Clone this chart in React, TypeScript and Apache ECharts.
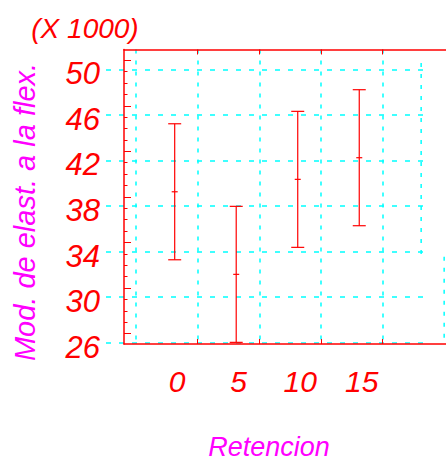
import React, { useEffect, useRef } from 'react';
import * as echarts from 'echarts';

// Data (values in thousands)
const retencion = [0, 5, 10, 15];
const lowerLimit = [33.28, 26.03, 34.37, 36.27];
const meanValue = [39.25, 32.0, 40.34, 42.24];
const upperLimit = [45.22, 37.97, 46.31, 48.21];

// Tick labels / tick marks
const yTickLabels = [26, 30, 34, 38, 42, 46, 50];
const xTickLabels = [0, 5, 10, 15];
const xTickMarks = [1.87, 6.9, 11.9, 16.9];
const yMajorTickMarks = [26.8, 30.8, 34.8, 38.8, 42.8, 46.8, 50.8];
const yMinorTickMarks = [
  27.8, 28.8, 29.8, 31.8, 32.8, 33.8, 35.8, 36.8, 37.8, 39.8, 40.8, 41.8,
  43.8, 44.8, 45.8, 47.8, 48.8, 49.8,
];
// stray partial grid lines of the original plot: [x, yFrom, yTo]
const partialGridX = [20.03, 21.9];
const partialGridFrom = [50.55, 33.55];
const partialGridTo = [33.43, 25.886];

const X_MIN = -4.12;
const X_MAX = 22.05;
const Y_MIN = 25.886;
const Y_MAX = 51.74;

const RED = '#ff0000';
const CYAN = '#00ffff';
const MAGENTA = '#ff00ff';
const FONT = "'Liberation Sans', Arial, sans-serif";

export default function App() {
  const ref = useRef<HTMLDivElement>(null);

  useEffect(() => {
    if (!ref.current) return;
    const chart = echarts.init(ref.current, undefined, { renderer: 'svg' });

    const errData = retencion.map((x, i) => [x, lowerLimit[i], meanValue[i], upperLimit[i]]);

    const hidden = {
      axisLine: { show: false, onZero: false },
      axisTick: { show: false },
      axisLabel: { show: false },
      splitLine: { show: false },
    };

    const option: any = {
      animation: false,
      backgroundColor: '#ffffff',
      grid: [
        { left: 124, top: 49.5, width: 322, height: 294.5 },
        { left: 106, top: 69.3, width: 317, height: 273.4 },
        { left: 136, top: 49.5, width: 246.6, height: 294.5 },
      ],
      xAxis: [
        {
          type: 'value',
          gridIndex: 0,
          position: 'bottom',
          min: X_MIN,
          max: X_MAX,
          axisLine: { show: true, onZero: false, lineStyle: { color: RED, width: 1.5 } },
          axisTick: {
            show: true,
            inside: true,
            length: 5,
            customValues: xTickMarks,
            lineStyle: { color: RED, width: 1 },
          },
          axisLabel: {
            show: true,
            customValues: xTickLabels,
            color: RED,
            fontSize: 30,
            fontStyle: 'italic',
            fontFamily: FONT,
            margin: 22,
            padding: [0, 0, 0, 5],
          },
          splitLine: { show: false },
        },
        {
          type: 'value',
          gridIndex: 0,
          position: 'top',
          min: X_MIN,
          max: X_MAX,
          axisLine: { show: true, onZero: false, lineStyle: { color: RED, width: 1.5 } },
          axisTick: {
            show: true,
            inside: true,
            length: 5,
            customValues: xTickMarks,
            lineStyle: { color: RED, width: 1 },
          },
          axisLabel: { show: false },
          splitLine: { show: false },
        },
        { type: 'value', gridIndex: 1, min: 0, max: 1, ...hidden },
        {
          type: 'value',
          gridIndex: 2,
          min: 0,
          max: 20,
          interval: 5,
          axisLine: { show: false, onZero: false },
          axisTick: { show: false },
          axisLabel: { show: false },
          splitLine: {
            show: true,
            lineStyle: { color: CYAN, width: 1.5, type: [4, 7] },
          },
        },
      ],
      yAxis: [
        {
          type: 'value',
          gridIndex: 0,
          position: 'left',
          min: Y_MIN,
          max: Y_MAX,
          axisLine: { show: true, onZero: false, lineStyle: { color: RED, width: 1.5 } },
          axisTick: {
            show: true,
            inside: true,
            length: 7,
            customValues: yMajorTickMarks,
            lineStyle: { color: RED, width: 1 },
          },
          axisLabel: {
            show: true,
            customValues: yTickLabels,
            color: RED,
            fontSize: 31,
            fontStyle: 'italic',
            fontFamily: FONT,
            margin: 24,
            verticalAlign: 'top',
            lineHeight: 9,
          },
          splitLine: { show: false },
        },
        {
          type: 'value',
          gridIndex: 0,
          position: 'left',
          offset: 0,
          min: Y_MIN,
          max: Y_MAX,
          axisLine: { show: false, onZero: false },
          axisTick: {
            show: true,
            inside: true,
            length: 3.5,
            customValues: yMinorTickMarks,
            lineStyle: { color: RED, width: 1 },
          },
          axisLabel: { show: false },
          splitLine: { show: false },
        },
        {
          type: 'value',
          gridIndex: 1,
          min: 26,
          max: 50,
          interval: 4,
          axisLine: { show: false, onZero: false },
          axisTick: { show: false },
          axisLabel: { show: false },
          splitLine: {
            show: true,
            lineStyle: { color: CYAN, width: 1.5, type: [5, 8] },
          },
        },
        { type: 'value', gridIndex: 2, min: 0, max: 1, ...hidden },
      ],
      series: [
        ...partialGridX.map((x, i) => ({
          type: 'line',
          xAxisIndex: 0,
          yAxisIndex: 0,
          data: [
            [x, partialGridFrom[i]],
            [x, partialGridTo[i]],
          ],
          symbol: 'none',
          silent: true,
          z: 1,
          lineStyle: { color: CYAN, width: 1.5, type: [4, 7] },
        })),
        {
          type: 'custom',
          xAxisIndex: 0,
          yAxisIndex: 0,
          data: errData,
          z: 5,
          renderItem: (params: any, api: any) => {
            const x = api.value(0);
            const pLo = api.coord([x, api.value(1)]);
            const pMid = api.coord([x, api.value(2)]);
            const pHi = api.coord([x, api.value(3)]);
            const cap = 6.5;
            const mid = 3;
            const style = { stroke: RED, lineWidth: 1.2, fill: 'none' };
            return {
              type: 'group',
              children: [
                { type: 'line', shape: { x1: pHi[0], y1: pHi[1], x2: pLo[0], y2: pLo[1] }, style },
                { type: 'line', shape: { x1: pHi[0] - cap, y1: pHi[1], x2: pHi[0] + cap, y2: pHi[1] }, style },
                { type: 'line', shape: { x1: pLo[0] - cap, y1: pLo[1], x2: pLo[0] + cap, y2: pLo[1] }, style },
                { type: 'line', shape: { x1: pMid[0] - mid, y1: pMid[1], x2: pMid[0] + mid, y2: pMid[1] }, style },
              ],
            };
          },
        },
      ],
      graphic: [
        {
          type: 'text',
          x: 85,
          y: 28,
          style: {
            text: '(X 1000)',
            fill: RED,
            font: `italic 28px ${FONT}`,
            align: 'center',
            verticalAlign: 'middle',
          },
        },
        {
          type: 'text',
          x: 25,
          y: 212,
          rotation: Math.PI / 2,
          style: {
            text: 'Mod. de elast. a la flex.',
            fill: MAGENTA,
            font: `italic 29px ${FONT}`,
            align: 'center',
            verticalAlign: 'middle',
          },
        },
        {
          type: 'text',
          x: 269,
          y: 447,
          style: {
            text: 'Retencion',
            fill: MAGENTA,
            font: `italic 27px ${FONT}`,
            lineHeight: 24,
            align: 'center',
            verticalAlign: 'middle',
          },
        },
      ],
    };

    chart.setOption(option);
    return () => chart.dispose();
  }, []);

  return (
    <div
      ref={ref}
      style={{ position: 'fixed', left: 0, top: 0, width: 446, height: 461 }}
    />
  );
}
